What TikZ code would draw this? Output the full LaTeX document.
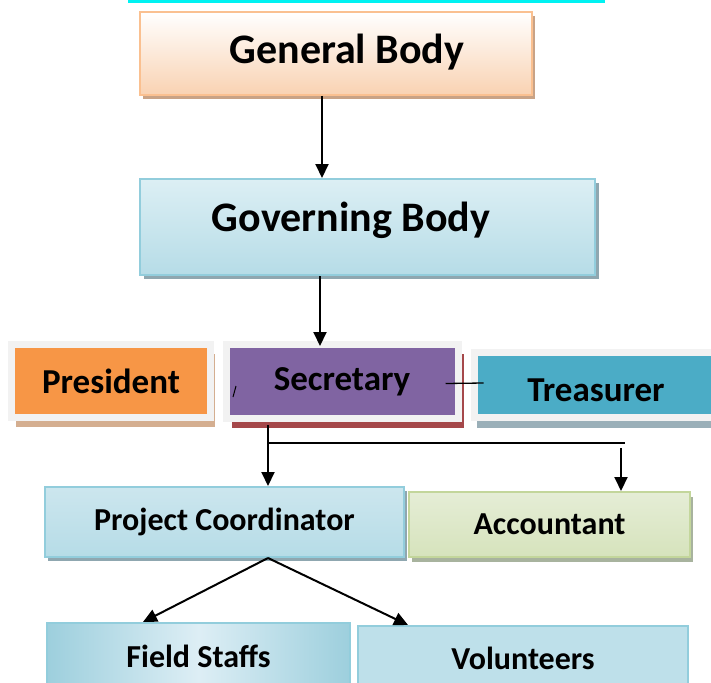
\documentclass[tikz,border=0pt]{standalone}
\usepackage{fontspec}
\setmainfont{Carlito}
\usetikzlibrary{shapes, arrows.meta, positioning, shadows}

\definecolor{topline}{HTML}{00F2F2}
\definecolor{genfill}{HTML}{F9D2B2}
\definecolor{genline}{HTML}{FAC090}
\definecolor{genshadow}{HTML}{C9A386}
\definecolor{govtop}{HTML}{DCEFF4}
\definecolor{govbot}{HTML}{B6DCE7}
\definecolor{blueline}{HTML}{92CDDC}
\definecolor{blueshadow}{HTML}{8FA7B0}
\definecolor{framegray}{HTML}{F2F2F2}
\definecolor{presfill}{HTML}{F79646}
\definecolor{presshadow}{HTML}{D4AE90}
\definecolor{secfill}{HTML}{8064A2}
\definecolor{secshadow}{HTML}{A5484A}
\definecolor{trefill}{HTML}{4BACC6}
\definecolor{treshadow}{HTML}{9AAFB8}
\definecolor{pctop}{HTML}{CCE6EE}
\definecolor{acctop}{HTML}{E5EDD6}
\definecolor{accbot}{HTML}{D6E3BC}
\definecolor{accline}{HTML}{C3D69B}
\definecolor{accshadow}{HTML}{A8B39E}
\definecolor{fsedge}{HTML}{9DCFDD}
\definecolor{fsmid}{HTML}{DDEEF5}
\definecolor{volfill}{HTML}{BEE0EA}

\tikzset{
	box/.style={rectangle, inner sep=0pt},
	framed/.style={box, draw=framegray, line width=7pt, fill=#1},
	arr/.style={-{Triangle[length=14pt,width=13pt]}, line width=2pt},
	big/.style={font=\fontsize{42}{50}\selectfont\bfseries},
	mid/.style={font=\fontsize{35}{42}\selectfont\bfseries},
	small/.style={font=\fontsize{32}{38}\selectfont\bfseries}
}

\begin{document}
\begin{tikzpicture}[x=1pt,y=-1pt]
				\useasboundingbox (0,0) rectangle (711,682);
				\draw[topline, line width=3pt] (128,1.5) -- (605,1.5); % cyan rule at the top

				% upper two bodies
				\node[box, draw=genline, line width=2pt, top color=white, bottom color=genfill,
					minimum width=392pt, minimum height=83pt,
					drop shadow={shadow xshift=3pt, shadow yshift=-4pt, fill=genshadow, opacity=1},
					label={[name=gentext, big, xshift=11pt, yshift=1pt]center:General Body}]
					(gen) at (336,53.5) {};
				\node[box, draw=blueline, line width=2pt, top color=govtop, bottom color=govbot,
					minimum width=455pt, minimum height=96pt,
					drop shadow={shadow xshift=4pt, shadow yshift=-4pt, fill=blueshadow, opacity=1},
					label={[name=govtext, big, xshift=-16.5pt, yshift=7pt]center:Governing Body}]
					(gov) at (367.5,227) {};

				% office bearers
				\node[framed=presfill, mid, minimum width=199pt, minimum height=73pt,
					drop shadow={shadow xshift=4pt, shadow yshift=-9.5pt, fill=presshadow, opacity=1}]
					(pres) at (111,381) {President};
				\node[framed=secfill, mid, minimum width=232pt, minimum height=74pt,
					drop shadow={shadow xshift=6pt, shadow yshift=-9pt, fill=secshadow, opacity=1}]
					(sec) at (342,381.5) {Secretary};
				\node[framed=trefill, mid, minimum width=244pt, minimum height=65pt, text height=33pt,
					drop shadow={shadow xshift=3pt, shadow yshift=-10.5pt, fill=treshadow, opacity=1}]
					(tre) at (596,385) {Treasurer};
				\draw[line width=1pt] (233,397) -- (236,386); % small stroke inside the box

				% staff
				\node[box, small, draw=blueline, line width=2pt, top color=pctop, bottom color=govbot,
					minimum width=359pt, minimum height=70pt,
					drop shadow={shadow xshift=3pt, shadow yshift=-4pt, fill=blueshadow, opacity=1}]
					(pc) at (224.5,522) {Project Coordinator};
				\node[box, small, draw=accline, line width=2pt, top color=acctop, bottom color=accbot,
					minimum width=281pt, minimum height=65pt,
					drop shadow={shadow xshift=3pt, shadow yshift=-5pt, fill=accshadow, opacity=1}]
					(acc) at (549.5,524.5) {Accountant};
				\node[box, small, draw=blueline, line width=2pt, left color=fsedge, right color=fsedge, middle color=fsmid,
					minimum width=303pt, minimum height=67pt]
					(fs) at (198.5,656.5) {Field Staffs};
				\node[box, small, draw=blueline, line width=2pt, fill=volfill,
					minimum width=330pt, minimum height=64pt]
					(vol) at (523,658) {Volunteers};

				% connectors
				\coordinate (secfoot) at (268,425);
				\coordinate (split) at (268,443);
				\coordinate (splitend) at (625,443);
				\coordinate (accin) at (621,448);
				\coordinate (apex) at (268,0 |- pc.south);

				\draw[arr] (322,0 |- gen.south) -- (322,0 |- gov.north);
				\draw[arr, shorten >=-5pt] (320,0 |- gov.south) -- (320,0 |- sec.north);
				\draw[line width=1.3pt] ([shift={(-16,2)}]sec.east) -- ([shift={(13,-2)}]tre.west);
				\draw[arr] (secfoot) -- (secfoot |- pc.north);
				\draw[line width=1.8pt] (split) -- (splitend);
				\draw[arr] (accin) -- (accin |- acc.north);
				\foreach \t/\x in {fs/143,vol/408} % two arrows out of the coordinator
					\draw[arr] (apex) -- (\x,0 |- \t.north);
\end{tikzpicture}
\end{document}
